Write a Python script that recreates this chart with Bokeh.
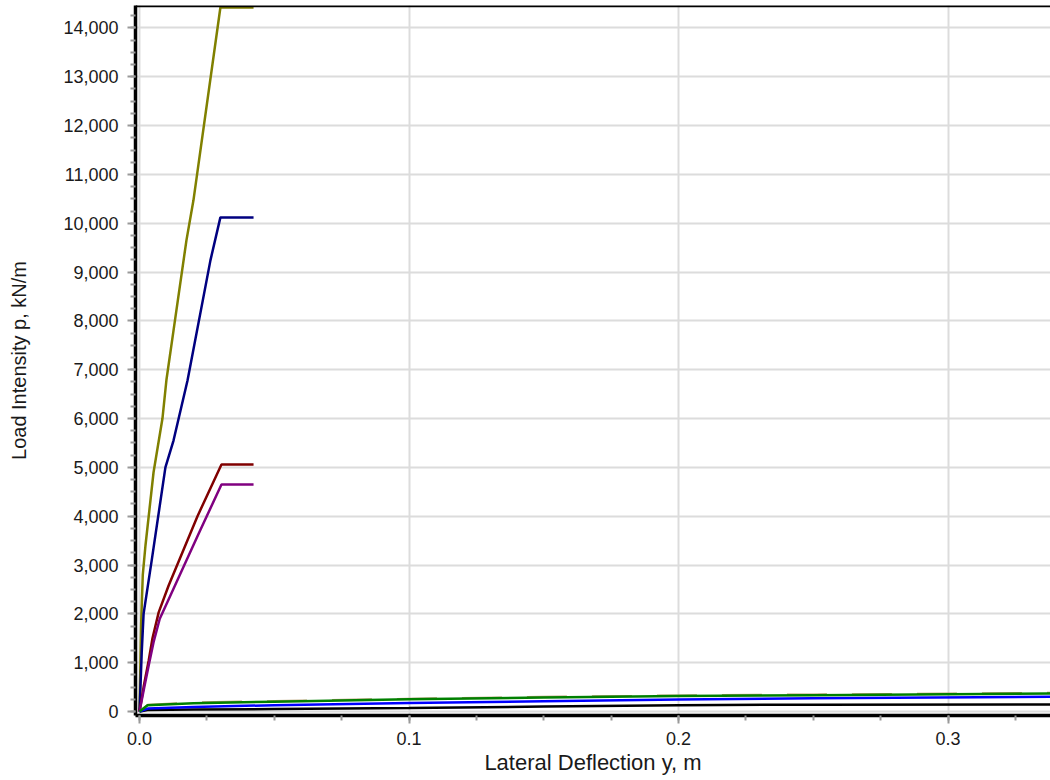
from bokeh.plotting import figure
from bokeh.models import (Range1d, SingleIntervalTicker, NumeralTickFormatter, Span)
from bokeh.embed import file_html
from bokeh.resources import INLINE

# ---- data ----
olive_x = [0.0, 0.0006, 0.0012, 0.0022, 0.0052, 0.0085, 0.0100, 0.0126, 0.0174, 0.0200, 0.0300, 0.0423]
olive_y = [0, 1800, 2800, 3400, 4900, 6000, 6800, 7800, 9650, 10470, 14420, 14420]

navy_x = [0.0, 0.0008, 0.0015, 0.0045, 0.0096, 0.0126, 0.0178, 0.0263, 0.0300, 0.0423]
navy_y = [0, 1200, 2000, 3090, 5000, 5550, 6780, 9240, 10120, 10120]

red_x = [0.0, 0.0015, 0.0034, 0.0048, 0.0071, 0.0108, 0.0215, 0.0304, 0.0423]
red_y = [0, 500, 1045, 1500, 2030, 2580, 4000, 5060, 5060]

purple_x = [0.0, 0.0017, 0.0036, 0.0052, 0.0075, 0.0115, 0.0220, 0.0304, 0.0423]
purple_y = [0, 480, 1000, 1420, 1900, 2380, 3650, 4650, 4650]

low_x = [0.0, 0.003, 0.02, 0.05, 0.10, 0.15, 0.20, 0.25, 0.338]
black_y = [0, 30, 40, 50, 70, 100, 130, 140, 145]
blue_y = [0, 60, 90, 130, 175, 210, 245, 270, 300]
tan_y = [0, 140, 185, 215, 262, 300, 330, 350, 382]
green_y = [0, 130, 170, 200, 250, 285, 315, 335, 370]

x_label = "Lateral Deflection y, m"
y_label = "Load Intensity p, kN/m"

X_START, X_END = -0.0015, 0.338
Y_START, Y_END = -82, 14460

FONT = "Liberation Sans"

p = figure(width=1050, height=780, output_backend="svg", toolbar_location=None,
           x_range=Range1d(X_START, X_END), y_range=Range1d(Y_START, Y_END),
           min_border_left=135, min_border_right=0, min_border_top=5, min_border_bottom=65)
p.outline_line_color = None
p.background_fill_color = "white"
p.border_fill_color = "white"

p.xaxis.ticker = SingleIntervalTicker(interval=0.1, num_minor_ticks=4)
p.yaxis.ticker = SingleIntervalTicker(interval=1000, num_minor_ticks=4)
p.xgrid.ticker = SingleIntervalTicker(interval=0.1)
p.ygrid.ticker = SingleIntervalTicker(interval=1000)
p.xaxis.formatter = NumeralTickFormatter(format="0.0")
p.yaxis.formatter = NumeralTickFormatter(format="0,0")

for ax in (p.xaxis, p.yaxis):
    ax.axis_line_color = "black"
    ax.axis_line_width = 3.5
    ax.major_tick_line_color = "#999999"
    ax.minor_tick_line_color = "#999999"
    ax.major_tick_line_width = 2
    ax.minor_tick_line_width = 2
    ax.major_tick_in = 0
    ax.minor_tick_in = 0
    ax.major_tick_out = 8
    ax.minor_tick_out = 5
    ax.major_label_text_font = FONT
    ax.major_label_text_font_size = "18px"
    ax.major_label_text_color = "#1a1a1a"
    ax.axis_label_text_font = FONT
    ax.axis_label_text_font_style = "normal"
    ax.axis_label_text_color = "#1a1a1a"

p.xaxis.axis_label_text_font_size = "22px"
p.yaxis.axis_label_text_font_size = "20px"
p.xaxis.axis_label = x_label
p.yaxis.axis_label = y_label
p.xaxis.major_label_standoff = 8
p.yaxis.major_label_standoff = 9
p.xaxis.axis_label_standoff = 2
p.yaxis.axis_label_standoff = 30

for g in (p.xgrid, p.ygrid):
    g.grid_line_color = "#dcdcdc"
    g.grid_line_width = 2

# top border of the frame
p.add_layout(Span(location=Y_END, dimension="width", line_color="black", line_width=3.5))

p.line(olive_x, olive_y, line_color="#808000", line_width=2.5)
p.line(navy_x, navy_y, line_color="#000080", line_width=2.5)
p.line(red_x, red_y, line_color="#800000", line_width=2.5)
p.line(purple_x, purple_y, line_color="#800080", line_width=2.5)
p.line(low_x, black_y, line_color="black", line_width=2.5)
p.line(low_x, tan_y, line_color="#b39a6a", line_width=2, line_dash="40 25")
p.line(low_x, blue_y, line_color="#0000ff", line_width=2.5)
p.line(low_x, green_y, line_color="#008000", line_width=2.5)

open("out.html", "w").write(file_html(p, INLINE))
